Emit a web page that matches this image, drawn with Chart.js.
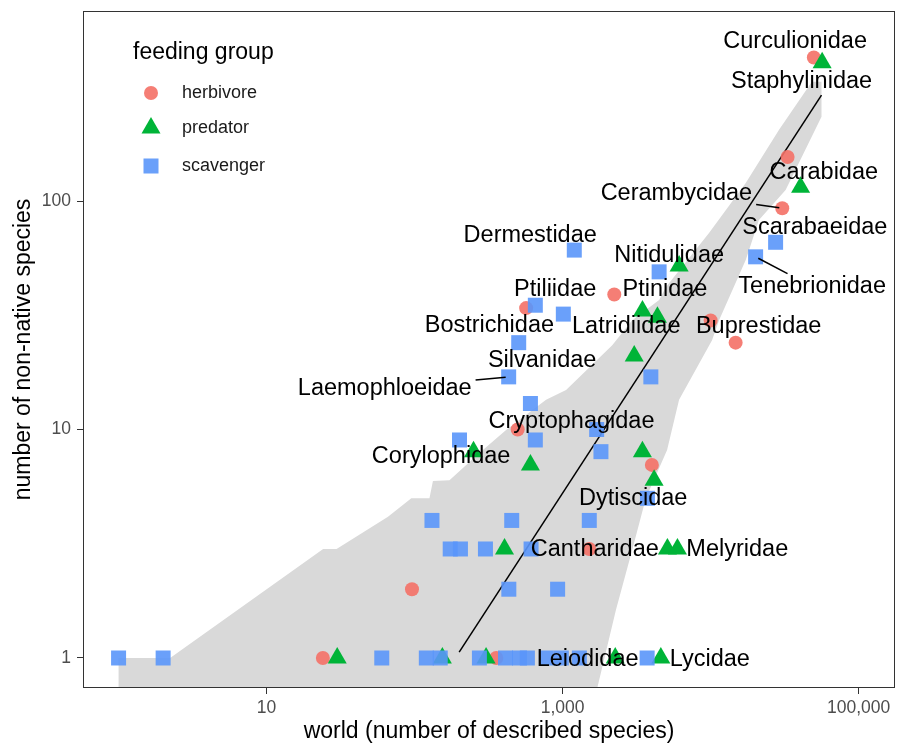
<!DOCTYPE html>
<html>
<head>
<meta charset="utf-8">
<script src="https://cdn.jsdelivr.net/npm/chart.js@4"></script>
<style>
  html, body { margin: 0; padding: 0; background: #fff; }
  #wrap { width: 906px; height: 743px; position: relative; }
</style>
</head>
<body>
<div id="wrap"><canvas id="scatterChart"></canvas></div>
<script>
// number of described species (world) vs. number of non-native species
const herbX = [49800, 33100, 30460, 2233, 567, 10000, 14750, 497, 4008, 1514, 96, 24, 356];
const herbY = [425, 156, 93, 39, 34, 30, 24, 10, 7, 3, 2, 1, 1];

const predX = [56650, 40520, 6124, 3462, 4370, 3046, 250, 606, 3460, 4150, 405, 5105, 5966, 30, 154, 304, 2267, 4608];
const predY = [403, 115, 52, 33, 31, 21, 8, 7, 8, 6, 3, 3, 3, 1, 1, 1, 1, 1];

const scavX = [1199, 4487, 27470, 20130, 654, 1011, 505, 432, 3945, 606, 201, 654, 1698, 1815, 3742,
    131, 453, 1514, 174, 204, 301, 612, 433, 925, 1, 2, 60, 120, 149, 274, 411, 511, 578, 776, 980, 1297, 3724];
const scavY = [61, 49, 66, 57, 35, 32, 24, 17, 17, 13, 9, 9, 10, 8, 5,
    4, 4, 4, 3, 3, 3, 3, 2, 2, 1, 1, 1, 1, 1, 1, 1, 1, 1, 1, 1, 1, 1];

// fitted line
const fitX = [200, 56100];
const fitY = [1.06, 291];

// grey band outline (upper edge left to right, then lower edge back down)
const bandX = [1, 1, 2.23, 24.1, 29.7, 66.1, 95, 126, 133, 172, 274, 415, 773, 1055, 2163, 2951, 4488, 4980,
    9750, 17260, 28910, 48300, 56100, 56100, 32100, 21200, 17260, 11400, 10220, 6120, 5080, 3650, 2951, 2291, 1714, 1636];
const bandY = [0.5, 1, 1, 3.0, 3.0, 4.15, 5.0, 5.0, 5.95, 6.0, 7.89, 9.95, 13.5, 14.9, 23.4, 30.1, 36.9, 42,
    72.4, 120, 204.6, 332.6, 332.6, 234, 111.7, 82.6, 55.2, 30.1, 24.6, 13.5, 8.13, 5.0, 2.97, 1.62, 0.739, 0.5];

// family labels
const labelNames = ['Curculionidae', 'Staphylinidae', 'Carabidae', 'Cerambycidae', 'Scarabaeidae', 'Tenebrionidae',
    'Nitidulidae', 'Ptinidae', 'Ptiliidae', 'Dermestidae', 'Bostrichidae', 'Latridiidae', 'Buprestidae',
    'Silvanidae', 'Laemophloeidae', 'Cryptophagidae', 'Corylophidae', 'Dytiscidae', 'Cantharidae',
    'Melyridae', 'Leiodidae', 'Lycidae'];
const labelX = [37240, 41130, 58180, 5870, 50580, 48500, 5245, 4911, 890, 604, 320, 2690, 21100,
    727, 62.8, 1148, 151, 2998, 1649, 15140, 1475, 9880];
const labelY = [498, 332.7, 133, 108, 76.7, 42.2, 58, 40.8, 40.8, 71, 28.4, 28.2, 28.2,
    20.1, 15.1, 10.8, 7.6, 5.0, 2.97, 2.97, 0.98, 0.98];
// leader segments: point each label belongs to (null = no segment)
const segX = [null, null, null, 30460, null, 20130, null, null, null, null, null, null, null,
    null, 432, null, null, null, null, null, null, null];
const segY = [null, null, null, 93, null, 57, null, null, null, null, null, null, null,
    null, 17, null, null, null, null, null, null, null];

const xTicks = [10, 1000, 100000];
const yTicks = [1, 10, 100];

const groups = ['herbivore', 'predator', 'scavenger'];
const groupColors = ['rgba(244, 112, 102, 0.9)', 'rgba(0, 180, 56, 1)', 'rgba(90, 150, 250, 0.9)'];

const FONT = '"Liberation Sans", Arial, sans-serif';

function toPoints(xs, ys) {
    return xs.map((x, i) => ({ x: x, y: ys[i] }));
}

// panel border
const borderPlugin = {
    id: 'panelBorder',
    afterDraw(chart) {
        const { ctx, chartArea: a } = chart;
        ctx.save();
        ctx.strokeStyle = '#333333';
        ctx.lineWidth = 1;
        ctx.strokeRect(a.left + 0.5, a.top + 0.5, a.right - a.left - 1, a.bottom - a.top - 1);
        ctx.restore();
    }
};

// text labels with repel-style segments
const labelPlugin = {
    id: 'familyLabels',
    afterDatasetsDraw(chart) {
        const { ctx } = chart;
        const xs = chart.scales.x, ys = chart.scales.y;
        ctx.save();
        ctx.font = '23.5px ' + FONT;
        ctx.textAlign = 'center';
        ctx.textBaseline = 'middle';
        labelNames.forEach((name, i) => {
            const lx = xs.getPixelForValue(labelX[i]);
            const ly = ys.getPixelForValue(labelY[i]);
            if (segX[i] !== null) {
                const px = xs.getPixelForValue(segX[i]);
                const py = ys.getPixelForValue(segY[i]);
                const hw = ctx.measureText(name).width / 2 + 4;
                const hh = 13;
                const dx = px - lx, dy = py - ly;
                const t = Math.min(Math.abs(hw / dx) || 1, Math.abs(hh / dy) || 1);
                const sx = lx + dx * t, sy = ly + dy * t;
                const len = Math.hypot(px - sx, py - sy);
                const ex = px - (px - sx) / len * 3, ey = py - (py - sy) / len * 3;
                ctx.strokeStyle = '#000';
                ctx.lineWidth = 1.5;
                ctx.beginPath();
                ctx.moveTo(sx, sy);
                ctx.lineTo(ex, ey);
                ctx.stroke();
            }
            ctx.fillStyle = '#000';
            ctx.fillText(name, lx, ly);
        });
        ctx.restore();
    }
};

// legend drawn inside the panel
const legendPlugin = {
    id: 'insideLegend',
    afterDraw(chart) {
        const { ctx } = chart;
        ctx.save();
        ctx.fillStyle = '#000';
        ctx.textBaseline = 'middle';
        ctx.textAlign = 'left';
        ctx.font = '23px ' + FONT;
        ctx.fillText('feeding group', 133, 53);
        ctx.font = '18px ' + FONT;
        const rowY = [93, 128, 166];
        groups.forEach((g, i) => {
            const cx = 151, cy = rowY[i];
            ctx.fillStyle = groupColors[i];
            ctx.beginPath();
            if (i === 0) {
                ctx.arc(cx, cy, 7, 0, Math.PI * 2);
            } else if (i === 1) {
                ctx.moveTo(cx, cy - 11);
                ctx.lineTo(cx + 9.5, cy + 5.5);
                ctx.lineTo(cx - 9.5, cy + 5.5);
                ctx.closePath();
            } else {
                ctx.rect(cx - 7.5, cy - 7.5, 15, 15);
            }
            ctx.fill();
            ctx.fillStyle = '#1a1a1a';
            ctx.fillText(g, 182, cy);
        });
        ctx.restore();
    }
};

const ctx = document.getElementById('scatterChart');
new Chart(ctx, {
    type: 'scatter',
    data: {
        datasets: [
            {
                label: 'herbivore',
                data: toPoints(herbX, herbY),
                pointStyle: 'circle',
                pointRadius: 7,
                pointHoverRadius: 7,
                backgroundColor: groupColors[0],
                borderWidth: 0,
                order: 3
            },
            {
                label: 'predator',
                data: toPoints(predX, predY),
                pointStyle: 'triangle',
                pointRadius: 11,
                pointHoverRadius: 11,
                backgroundColor: groupColors[1],
                borderWidth: 0,
                order: 2
            },
            {
                label: 'scavenger',
                data: toPoints(scavX, scavY),
                pointStyle: 'rect',
                pointRadius: 10.6,
                pointHoverRadius: 10.6,
                backgroundColor: groupColors[2],
                borderWidth: 0,
                order: 1
            },
            {
                type: 'line',
                label: 'fit',
                data: toPoints(fitX, fitY),
                borderColor: '#000',
                borderWidth: 1.5,
                pointRadius: 0,
                fill: false,
                order: 5
            },
            {
                type: 'line',
                label: 'band',
                data: toPoints(bandX, bandY),
                borderWidth: 0,
                borderColor: 'rgba(0,0,0,0)',
                backgroundColor: '#d9d9d9',
                pointRadius: 0,
                tension: 0,
                fill: 'shape',
                order: 10
            }
        ]
    },
    options: {
        responsive: true,
        maintainAspectRatio: false,
        animation: false,
        layout: { padding: { top: 11, right: 9, left: 0, bottom: 0 } },
        plugins: {
            legend: { display: false },
            tooltip: { enabled: false }
        },
        scales: {
            x: {
                type: 'logarithmic',
                bounds: 'data',
                min: 0.575,
                max: 176000,
                afterBuildTicks: (scale) => { scale.ticks = xTicks.map(v => ({ value: v })); },
                afterFit: (scale) => {
                    scale.height = 55;
                    scale.paddingLeft = 0;
                    scale.paddingRight = 0;
                },
                ticks: {
                    color: '#4d4d4d',
                    font: { family: FONT, size: 17.5 },
                    padding: 4,
                    maxRotation: 0,
                    callback: (v) => Number(v).toLocaleString('en-US')
                },
                grid: { drawOnChartArea: false, tickLength: 6, tickColor: '#333333', tickWidth: 1 },
                border: { display: false },
                title: {
                    display: true,
                    text: 'world (number of described species)',
                    color: '#000',
                    font: { family: FONT, size: 23, lineHeight: 1 },
                    padding: { top: 0, bottom: 0 }
                }
            },
            y: {
                type: 'logarithmic',
                bounds: 'data',
                min: 0.739,
                max: 679,
                afterBuildTicks: (scale) => { scale.ticks = yTicks.map(v => ({ value: v })); },
                afterFit: (scale) => {
                    scale.width = 83;
                    scale.paddingTop = 0;
                    scale.paddingBottom = 0;
                },
                ticks: {
                    color: '#4d4d4d',
                    font: { family: FONT, size: 17.5 },
                    padding: 6,
                    callback: (v) => Number(v).toLocaleString('en-US')
                },
                grid: { drawOnChartArea: false, tickLength: 6, tickColor: '#333333', tickWidth: 1 },
                border: { display: false },
                title: {
                    display: true,
                    text: 'number of non-native species',
                    color: '#000',
                    font: { family: FONT, size: 23, lineHeight: 1 },
                    padding: { top: 12, bottom: 0 }
                }
            }
        }
    },
    plugins: [labelPlugin, legendPlugin, borderPlugin]
});
</script>
</body>
</html>
